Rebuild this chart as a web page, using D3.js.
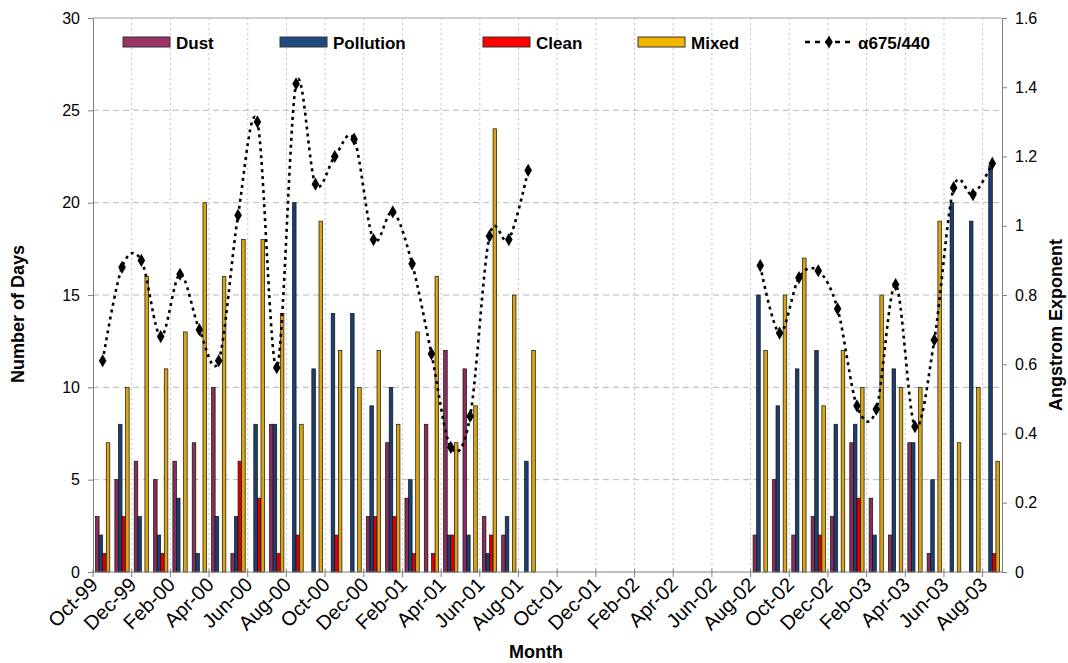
<!DOCTYPE html>
<html>
<head>
<meta charset="utf-8">
<script src="https://cdn.jsdelivr.net/npm/d3@7"></script>
<style>
  body { margin: 0; background: #fff; }
  text { font-family: "Liberation Sans", Arial, sans-serif; }
</style>
</head>
<body>
<div id="viz"></div>
<script>
// months on the category axis
var months = ["Oct-99","Nov-99","Dec-99","Jan-00","Feb-00","Mar-00","Apr-00","May-00","Jun-00","Jul-00","Aug-00","Sep-00",
  "Oct-00","Nov-00","Dec-00","Jan-01","Feb-01","Mar-01","Apr-01","May-01","Jun-01","Jul-01","Aug-01","Sep-01",
  "Oct-01","Nov-01","Dec-01","Jan-02","Feb-02","Mar-02","Apr-02","May-02","Jun-02","Jul-02","Aug-02","Sep-02",
  "Oct-02","Nov-02","Dec-02","Jan-03","Feb-03","Mar-03","Apr-03","May-03","Jun-03","Jul-03","Aug-03"];

// number of days per aerosol type (null = no observations)
var dust      = [3,5,6,5,6,7,10,1,0,8,0,0,0,0,3,7,4,8,12,11,3,2,0,
  null,null,null,null,null,null,null,null,null,null,null,
  2,5,2,3,3,7,4,2,7,1,0,0,0];
var pollution = [2,8,3,2,4,1,3,3,8,8,20,11,14,14,9,10,5,0,2,2,1,3,6,
  null,null,null,null,null,null,null,null,null,null,null,
  15,9,11,12,8,8,2,11,7,5,20,19,22];
var clean     = [1,3,0,1,0,0,0,6,4,1,2,0,2,0,3,3,1,1,2,0,2,0,0,
  null,null,null,null,null,null,null,null,null,null,null,
  0,0,0,2,0,4,0,0,0,0,0,0,1];
var mixed     = [7,10,16,11,13,20,16,18,18,14,8,19,12,10,12,8,13,16,7,9,24,15,12,
  null,null,null,null,null,null,null,null,null,null,null,
  12,15,17,9,12,10,15,10,10,19,7,10,6];
// angstrom exponent alpha 675/440
var alpha     = [0.61,0.88,0.90,0.68,0.86,0.70,0.61,1.03,1.30,0.59,1.41,1.12,1.20,1.25,0.96,1.04,0.89,0.63,0.36,0.45,0.97,0.96,1.16,
  null,null,null,null,null,null,null,null,null,null,null,
  0.885,0.69,0.85,0.87,0.76,0.48,0.47,0.83,0.42,0.67,1.11,1.09,1.18];

var seriesNames = ["Dust", "Pollution", "Clean", "Mixed"];
var seriesValues = [dust, pollution, clean, mixed];
var seriesColors = ["#993366", "#1f4a80", "#ff0000", "#f2b600"];
var barColors = ["#8a2d5c", "#1b3f70", "#e00000", "#d9a514"];

var leftTicks = [0, 5, 10, 15, 20, 25, 30];
var rightTicks = [0, 0.2, 0.4, 0.6, 0.8, 1, 1.2, 1.4, 1.6];
var labelMonths = months.filter(function(d, i) { return i % 2 == 0; });

var width = 1068, height = 663;
var plotLeft = 93, plotRight = 1002, plotTop = 18, plotBottom = 572;

var svg = d3.select("#viz").append("svg")
  .attr("width", width)
  .attr("height", height);

svg.append("rect").attr("width", width).attr("height", height).attr("fill", "#fff");

var pad = 0.26;
var x0 = d3.scaleBand().domain(months).range([plotLeft, plotRight]).paddingInner(pad).paddingOuter(pad / 2);
var x1 = d3.scaleBand().domain(seriesNames).range([0, x0.bandwidth()]);
var y = d3.scaleLinear().domain([0, 30]).range([plotBottom, plotTop]);
var y2 = d3.scaleLinear().domain([0, 1.6]).range([plotBottom, plotTop]);

// start of a month's cell (where the category ticks sit)
function cellStart(m) { return x0(m) - x0.step() * pad / 2; }

// horizontal grid
svg.append("g").selectAll("line")
  .data(leftTicks.filter(function(d) { return d > 0; }))
  .enter().append("line")
  .attr("x1", plotLeft).attr("x2", plotRight)
  .attr("y1", function(d) { return y(d); })
  .attr("y2", function(d) { return y(d); })
  .attr("stroke", function(d) { return d == 30 ? "#a0a0a0" : "#b8b8b8"; })
  .attr("stroke-dasharray", function(d) { return d == 30 ? null : "6,4"; })
  .attr("stroke-width", 1);

// vertical grid
svg.append("g").selectAll("line")
  .data(labelMonths.slice(1))
  .enter().append("line")
  .attr("x1", function(d) { return cellStart(d); })
  .attr("x2", function(d) { return cellStart(d); })
  .attr("y1", plotTop).attr("y2", plotBottom)
  .attr("stroke", "#c4c4c4")
  .attr("stroke-dasharray", "2,3");

// bars
var groups = svg.append("g").selectAll("g")
  .data(months)
  .enter().append("g")
  .attr("transform", function(d) { return "translate(" + x0(d) + ",0)"; });

groups.selectAll("rect")
  .data(function(d, i) {
    return seriesNames.map(function(s, k) { return { key: s, value: seriesValues[k][i], color: barColors[k] }; })
      .filter(function(o) { return o.value; });
  })
  .enter().append("rect")
  .attr("x", function(d) { return x1(d.key); })
  .attr("width", x1.bandwidth())
  .attr("y", function(d) { return y(d.value); })
  .attr("height", function(d) { return plotBottom - y(d.value); })
  .attr("fill", function(d) { return d.color; })
  .attr("stroke", "#111")
  .attr("stroke-width", 0.7);

// angstrom line
var pts = months.map(function(m, i) { return { m: m, v: alpha[i] }; });
var line = d3.line()
  .defined(function(d) { return d.v != null; })
  .x(function(d) { return x0(d.m) + x0.bandwidth() / 2; })
  .y(function(d) { return y2(d.v); })
  .curve(d3.curveCatmullRom.alpha(0));

svg.append("path")
  .datum(pts)
  .attr("d", line)
  .attr("fill", "none")
  .attr("stroke", "#000")
  .attr("stroke-width", 2.6)
  .attr("stroke-dasharray", "3,4");

var diamond = d3.symbol().type(d3.symbolDiamond).size(50);
svg.append("g").selectAll("path")
  .data(pts.filter(function(d) { return d.v != null; }))
  .enter().append("path")
  .attr("d", diamond)
  .attr("transform", function(d) { return "translate(" + (x0(d.m) + x0.bandwidth() / 2) + "," + y2(d.v) + ")"; })
  .attr("fill", "#000");

// axes
var yAxis = svg.append("g")
  .attr("transform", "translate(" + plotLeft + ",0)")
  .call(d3.axisLeft(y).tickValues(leftTicks).tickSize(5).tickPadding(8));
var y2Axis = svg.append("g")
  .attr("transform", "translate(" + plotRight + ",0)")
  .call(d3.axisRight(y2).tickValues(rightTicks).tickSize(5).tickPadding(8).tickFormat(function(d) { return String(d); }));
[yAxis, y2Axis].forEach(function(a) {
  a.select(".domain").attr("stroke", "#808080");
  a.selectAll(".tick line").attr("stroke", "#808080");
  a.selectAll("text").attr("font-size", 16).attr("fill", "#000")
    .style("font-family", "'Liberation Sans', Arial, sans-serif");
});

// category axis
svg.append("line")
  .attr("x1", plotLeft).attr("x2", plotRight)
  .attr("y1", plotBottom).attr("y2", plotBottom)
  .attr("stroke", "#808080");

svg.append("g").selectAll("line")
  .data(labelMonths)
  .enter().append("line")
  .attr("x1", function(d) { return cellStart(d); })
  .attr("x2", function(d) { return cellStart(d); })
  .attr("y1", plotBottom - 3).attr("y2", plotBottom + 5)
  .attr("stroke", "#808080");

svg.append("g").selectAll("text")
  .data(labelMonths)
  .enter().append("text")
  .attr("transform", function(d) { return "translate(" + (cellStart(d) + 6) + "," + (plotBottom + 14) + ") rotate(-45)"; })
  .attr("text-anchor", "end")
  .attr("font-size", 20)
  .text(function(d) { return d; });

// axis titles
svg.append("text")
  .attr("transform", "translate(24,314) rotate(-90)")
  .attr("text-anchor", "middle")
  .attr("font-size", 18).attr("font-weight", "bold")
  .text("Number of Days");

svg.append("text")
  .attr("transform", "translate(1062,325) rotate(-90)")
  .attr("text-anchor", "middle")
  .attr("font-size", 18).attr("font-weight", "bold")
  .text("Angstrom Exponent");

svg.append("text")
  .attr("x", 536).attr("y", 658)
  .attr("text-anchor", "middle")
  .attr("font-size", 18).attr("font-weight", "bold")
  .text("Month");

// legend
var legendX = [123, 280, 483, 638];
var lg = svg.append("g");
seriesNames.forEach(function(s, k) {
  lg.append("rect")
    .attr("x", legendX[k]).attr("y", 37)
    .attr("width", 47).attr("height", 10)
    .attr("fill", seriesColors[k])
    .attr("stroke", "#333").attr("stroke-width", 1);
  lg.append("text")
    .attr("x", legendX[k] + 53).attr("y", 49)
    .attr("font-size", 17).attr("font-weight", "bold")
    .text(s);
});
lg.append("line")
  .attr("x1", 805).attr("x2", 853).attr("y1", 42).attr("y2", 42)
  .attr("stroke", "#000").attr("stroke-width", 2.4)
  .attr("stroke-dasharray", "5,5");
lg.append("path")
  .attr("d", diamond)
  .attr("transform", "translate(829,42)")
  .attr("fill", "#000");
lg.append("text")
  .attr("x", 858).attr("y", 49)
  .attr("font-size", 17).attr("font-weight", "bold")
  .text("α675/440");
</script>
</body>
</html>
